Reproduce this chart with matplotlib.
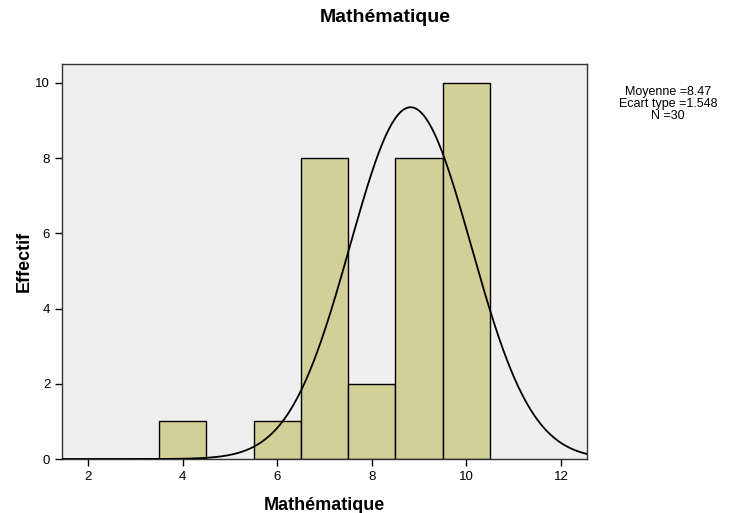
import numpy as np
import matplotlib.pyplot as plt

# Histogram data (bin centres and counts)
binCenters = [4, 6, 7, 8, 9, 10]
counts = [1, 1, 8, 2, 8, 10]
binWidth = 1.0

# Summary text shown beside the chart
statMean = 8.47
statSd = 1.548
statN = 30

# Normal curve as drawn in the picture
curveMean = 8.82
curveSd = 1.28

xTicks = [2, 4, 6, 8, 10, 12]
yTicks = [0, 2, 4, 6, 8, 10]

plt.rcParams['font.family'] = ['Liberation Sans', 'DejaVu Sans']

fig = plt.figure(figsize=(7.37, 5.13), dpi=100)
ax = fig.add_axes([62/737, 1-459/513, (587-62)/737, (459-64)/513])
ax.set_facecolor('#efefef')

ax.bar(binCenters, counts, width=binWidth, color='#d3cf99', edgecolor='black', linewidth=1.0, zorder=2)

# Normal curve scaled to counts
xs = np.linspace(1.45, 12.55, 400)
ys = statN * binWidth / (curveSd * np.sqrt(2*np.pi)) * np.exp(-(xs - curveMean)**2 / (2*curveSd**2))
ax.plot(xs, ys, color='black', linewidth=1.3, zorder=3)

ax.set_xlim(1.45, 12.55)
ax.set_ylim(0, 10.5)
ax.set_xticks(xTicks)
ax.set_yticks(yTicks)
ax.tick_params(labelsize=9.5, length=5, width=1, direction='out')
for s in ax.spines.values():
    s.set_color('#333333')
    s.set_linewidth(1.0)

ax.set_xlabel("Mathématique", fontsize=13, fontweight='bold', labelpad=10)
ax.set_ylabel("Effectif", fontsize=13, fontweight='bold', labelpad=2)
fig.text(385/737, 1-18/513, "Mathématique", fontsize=14, fontweight='bold', ha='center', va='center')

fig.text(668/737, 1-86/513, f"Moyenne ={statMean}\nEcart type ={statSd}\nN ={statN}",
         fontsize=9, ha='center', va='top', linespacing=1.0)

fig.savefig("out.png", dpi=100)
